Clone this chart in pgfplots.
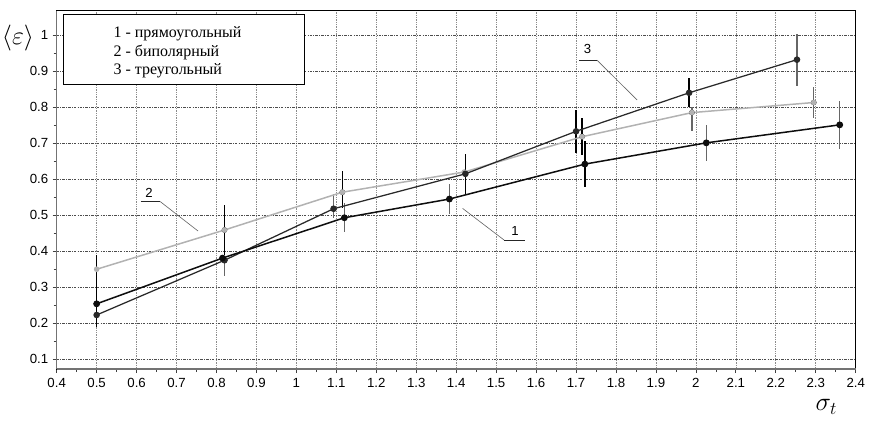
\documentclass[border=0pt]{standalone}
\usepackage{fontspec}
\setmainfont{Liberation Sans}
\newfontfamily\legfont{Liberation Serif}
\usepackage{pgfplots}
\pgfplotsset{compat=1.18}

\definecolor{ser1}{gray}{0.05}
\definecolor{ser2}{gray}{0.70}
\definecolor{ser3}{gray}{0.16}
\definecolor{bargray}{gray}{0.40}

\begin{document}
\begin{tikzpicture}
\path[use as bounding box] (-45.36pt,-43.2pt) rectangle (663.44pt,295.2pt);
\begin{axis}[at={(0,0)}, anchor=south west, scale only axis,
  width=639.2pt, height=286.64pt,
  xmin=0.4, xmax=2.4, ymin=0.073, ymax=1.068,
  xtick={0.4,0.5,0.6,0.7,0.8,0.9,1,1.1,1.2,1.3,1.4,1.5,1.6,1.7,1.8,1.9,2,2.1,2.2,2.3,2.4},
  ytick={0.1,0.2,0.3,0.4,0.5,0.6,0.7,0.8,0.9,1},
  minor x tick num=1, minor y tick num=1,
  xtick pos=left, ytick pos=left, tick align=outside,
  major tick length=3.2pt, minor tick length=2.4pt,
  tick style={black!75, line width=0.6pt},
  xmajorgrids, ymajorgrids,
  x grid style={black!45, densely dotted, line width=0.5pt},
  y grid style={black!70, dash pattern=on 2pt off 1pt on 0.6pt off 1pt, line width=0.45pt},
  axis line style={black, line width=0.9pt},
  tick label style={font=\fontsize{10.6}{12}\selectfont},
  /pgf/number format/assume math mode=true,
  xticklabel style={yshift=-1pt},
  clip=false]

% error bars drawn in black
\addplot[only marks, mark=none, forget plot,
  error bars/.cd, y dir=both, y explicit, error mark=none,
  error bar style={black, line width=1.1pt}]
  coordinates {
  (0.5,0.254) += (0,0.136) -= (0,0.064)
  (0.82,0.459) +- (0,0.070)
  (1.115,0.564) += (0,0.059) -= (0,0.044)
  (1.423,0.615) +- (0,0.056)
  (1.70,0.733) +- (0,0.060)
  (1.715,0.718) +- (0,0.052)
  (1.722,0.642) +- (0,0.063)
  (1.983,0.840) +- (0,0.040)
  };

% error bars drawn in grey
\addplot[only marks, mark=none, forget plot,
  error bars/.cd, y dir=both, y explicit, error mark=none,
  error bar style={bargray, line width=1.1pt}]
  coordinates {
  (0.82,0.375) += (0,0.010) -= (0,0.045)
  (1.093,0.518) += (0,0.040) -= (0,0.025)
  (1.12,0.493) +- (0,0.040)
  (1.383,0.545) +- (0,0.042)
  (1.99,0.785) += (0,0.015) -= (0,0.050)
  (2.026,0.701) +- (0,0.050)
  (2.253,0.932) +- (0,0.072)
  (2.295,0.813) +- (0,0.042)
  (2.36,0.751) +- (0,0.066)
  };

% 2 - bipolar
\addplot[ser2, line width=1.2pt, mark=*, mark size=1.6pt, mark options={fill=ser2}]
  coordinates {(0.5,0.350)(0.82,0.459)(1.115,0.564)(1.42,0.620)(1.715,0.718)(1.99,0.785)(2.295,0.813)};
% 3 - triangular
\addplot[ser3, line width=1.0pt, mark=*, mark size=2.1pt, mark options={fill=ser3}]
  coordinates {(0.5,0.223)(0.82,0.375)(1.093,0.518)(1.423,0.615)(1.70,0.733)(1.983,0.840)(2.253,0.932)};
% 1 - rectangular
\addplot[ser1, line width=1.2pt, mark=*, mark size=2.1pt, mark options={fill=ser1}]
  coordinates {(0.5,0.254)(0.815,0.381)(1.12,0.493)(1.383,0.545)(1.722,0.642)(2.026,0.701)(2.36,0.751)};

% leader lines of the curve numbers
\addplot[black!60, line width=0.5pt, forget plot] coordinates {(1.416,0.519)(1.52,0.431)};
\addplot[black!85, line width=0.8pt, forget plot] coordinates {(1.52,0.431)(1.572,0.431)};
\addplot[black!60, line width=0.5pt, forget plot] coordinates {(0.659,0.538)(0.754,0.456)};
\addplot[black!85, line width=0.8pt, forget plot] coordinates {(0.610,0.538)(0.659,0.538)};
\addplot[black!60, line width=0.5pt, forget plot] coordinates {(1.752,0.931)(1.853,0.820)};
\addplot[black!85, line width=0.8pt, forget plot] coordinates {(1.708,0.931)(1.752,0.931)};
\node[font=\fontsize{10.5}{12}\selectfont] at (axis cs:1.547,0.456) {1};
\node[font=\fontsize{10.5}{12}\selectfont] at (axis cs:0.631,0.563) {2};
\node[font=\fontsize{10.5}{12}\selectfont] at (axis cs:1.729,0.961) {3};

% legend box
\draw[black, line width=0.8pt, fill=white] ([xshift=5.3pt,yshift=-2.9pt]rel axis cs:0,1) rectangle ++(192.8pt,-55.8pt);
\node[anchor=base west, inner sep=0pt, font=\legfont\fontsize{12.8}{15}\selectfont] at ([xshift=45.3pt,yshift=-21.6pt]rel axis cs:0,1) {1 - прямоугольный};
\node[anchor=base west, inner sep=0pt, font=\legfont\fontsize{12.8}{15}\selectfont] at ([xshift=45.3pt,yshift=-36.6pt]rel axis cs:0,1) {2 - биполярный};
\node[anchor=base west, inner sep=0pt, font=\legfont\fontsize{12.8}{15}\selectfont] at ([xshift=45.3pt,yshift=-51.4pt]rel axis cs:0,1) {3 - треугольный};

% grey bottom and left axis lines
\draw[black!55, line width=1.6pt] (rel axis cs:0,0) -- (rel axis cs:1,0);
\draw[black!55, line width=0.9pt] (rel axis cs:0,0) -- (rel axis cs:0,1);

% axis labels
\node[font=\fontsize{21}{24}\selectfont] at ([xshift=-31pt,yshift=-22pt]rel axis cs:0,1) {$\langle\varepsilon\rangle$};
\node[font=\fontsize{20}{24}\selectfont] at ([xshift=-23.5pt,yshift=-30.4pt]rel axis cs:1,0) {$\sigma_t$};
\end{axis}
\end{tikzpicture}
\end{document}
